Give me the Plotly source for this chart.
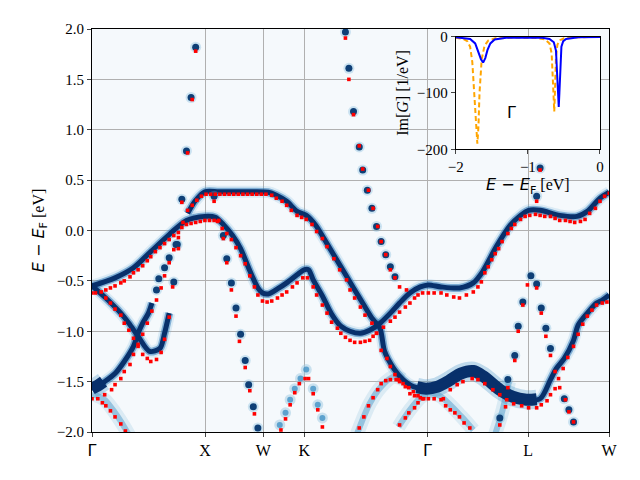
import plotly.graph_objects as go

# k-path Γ-X-W-K-Γ-L-W (path length, 2π/a)
sym_k = [0, 0.981, 1.487, 1.843, 2.911, 3.787, 4.488]
sym_lbl = ["Γ", "X", "W", "K", "Γ", "L", "W"]

# ---- DFT bands (red dots) ----
dft1_k = [0.00, 0.03, 0.08, 0.12, 0.16, 0.20, 0.25, 0.28, 0.33, 0.36, 0.40, 0.44, 0.48, 0.51, 0.55, 0.59, 0.63,
          0.67, 0.71, 0.75, 0.78, 0.82, 0.86, 0.90, 0.94, 0.98,
          1.02, 1.06, 1.09, 1.13, 1.17, 1.21, 1.25, 1.29, 1.33, 1.37, 1.41, 1.44, 1.48, 1.52, 1.56, 1.61, 1.65,
          1.69, 1.74, 1.78, 1.83, 1.87,
          1.92, 1.95, 2.00, 2.04, 2.08, 2.13, 2.16, 2.20, 2.24, 2.28, 2.33, 2.37, 2.41, 2.44, 2.47, 2.53, 2.59,
          2.63, 2.67, 2.72, 2.76, 2.80, 2.83, 2.87, 2.92,
          2.97, 3.03, 3.08, 3.14, 3.19, 3.25, 3.31, 3.35, 3.38, 3.41, 3.44, 3.47, 3.50, 3.53, 3.56, 3.61, 3.64,
          3.67, 3.72, 3.76, 3.80, 3.85, 3.89, 3.93, 3.98, 4.02, 4.06, 4.11, 4.15, 4.19, 4.24, 4.28, 4.32, 4.37,
          4.41, 4.45, 4.49]
dft1_e = [-0.62, -0.62, -0.61, -0.59, -0.57, -0.55, -0.52, -0.50, -0.46, -0.42, -0.39, -0.35, -0.30, -0.26, -0.21,
          -0.17, -0.13, -0.09, -0.05, -0.02, 0.03, 0.06, 0.07, 0.08, 0.09, 0.10,
          0.10, 0.10, 0.09, 0.02, -0.03, -0.09, -0.17, -0.25, -0.33, -0.45, -0.56, -0.64, -0.70, -0.71, -0.70,
          -0.67, -0.64, -0.61, -0.56, -0.52, -0.47, -0.47,
          -0.56, -0.64, -0.74, -0.82, -0.91, -0.97, -1.02, -1.06, -1.09, -1.11, -1.11, -1.10, -1.09, -1.05, -1.02,
          -0.96, -0.90, -0.86, -0.81, -0.76, -0.72, -0.67, -0.64, -0.62, -0.62,
          -0.62, -0.62, -0.64, -0.66, -0.67, -0.64, -0.61, -0.56, -0.51, -0.42, -0.36, -0.29, -0.23, -0.18, -0.11,
          -0.03, 0.02, 0.06, 0.11, 0.14, 0.15, 0.16, 0.15, 0.14, 0.14, 0.12, 0.10, 0.10, 0.09, 0.08, 0.09, 0.11,
          0.17, 0.22, 0.29, 0.34, 0.37]

dft2_k = [0.12, 0.16, 0.20, 0.25, 0.28, 0.32, 0.36, 0.40, 0.44, 0.48, 0.51, 0.56, 0.60, 0.63, 0.67, 0.70, 0.75,
          0.78, 0.83, 0.87, 0.90]
dft2_e = [-0.67, -0.72, -0.78, -0.84, -0.92, -0.99, -1.07, -1.15, -1.23, -1.27, -1.30, -1.28, -1.21, -1.08, -0.86,
          -0.56, -0.18, 0.28, 0.77, 1.30, 1.78]

dft3_k = [0.00, 0.05, 0.11, 0.17, 0.20, 0.25, 0.28, 0.33, 0.36, 0.40, 0.44, 0.48, 0.52, 0.56, 0.60, 0.63, 0.67,
          0.71, 0.75, 0.79, 0.83, 0.87, 0.91, 0.95, 0.99,
          1.03, 1.07, 1.11, 1.15, 1.19, 1.23, 1.27, 1.31, 1.35, 1.39, 1.43, 1.47, 1.51,
          1.56, 1.60, 1.65, 1.69, 1.73, 1.78, 1.82, 1.86, 1.91, 1.95, 2.00, 2.04, 2.10, 2.15, 2.21, 2.24, 2.28,
          2.33, 2.37, 2.43, 2.47, 2.51, 2.56, 2.59, 2.63, 2.66, 2.70, 2.75, 2.79, 2.83, 2.88, 2.92,
          2.97, 3.05, 3.11, 3.17, 3.22, 3.30, 3.35, 3.41, 3.48, 3.54, 3.60, 3.66, 3.73, 3.79, 3.86, 3.90, 3.95,
          3.98, 4.02, 4.05, 4.09, 4.13, 4.18, 4.22, 4.26, 4.30, 4.34, 4.38, 4.43, 4.47]
dft3_e = [-1.67, -1.67, -1.63, -1.58, -1.53, -1.47, -1.40, -1.33, -1.23, -1.13, -1.03, -0.92, -0.80, -0.69, -0.57,
          -0.45, -0.32, -0.19, -0.07, 0.08, 0.20, 0.25, 0.30, 0.34, 0.36,
          0.36, 0.36, 0.36, 0.36, 0.36, 0.36, 0.36, 0.36, 0.36, 0.36, 0.36, 0.36, 0.36,
          0.35, 0.32, 0.29, 0.25, 0.20, 0.15, 0.13, 0.11, 0.06, -0.01, -0.08, -0.16, -0.28, -0.39, -0.49, -0.59,
          -0.67, -0.76, -0.84, -0.92, -1.02, -1.19, -1.27, -1.35, -1.43, -1.48, -1.52, -1.56, -1.60, -1.64, -1.67,
          -1.67,
          -1.67, -1.67, -1.58, -1.53, -1.50, -1.47, -1.48, -1.52, -1.58, -1.63, -1.68, -1.72, -1.74, -1.76, -1.76,
          -1.73, -1.69, -1.63, -1.57, -1.47, -1.37, -1.26, -1.15, -1.03, -0.93, -0.85, -0.79, -0.74, -0.72, -0.71]

dft4_k = [0.09, 0.12, 0.16, 0.20, 0.25, 0.29]
dft4_e = [-1.71, -1.74, -1.79, -1.85, -1.92, -1.99]
dft5_k = [1.06, 1.10, 1.14, 1.17, 1.21, 1.25, 1.28, 1.33, 1.37, 1.41]
dft5_e = [0.29, 0.10, -0.08, -0.32, -0.59, -0.85, -1.10, -1.36, -1.59, -1.82]
dft6_k = [1.64, 1.68, 1.72, 1.76, 1.80, 1.85, 1.88, 1.92, 1.96, 2.00]
dft6_e = [-1.98, -1.87, -1.73, -1.61, -1.52, -1.47, -1.47, -1.62, -1.78, -1.95]
dft7_k = [2.20, 2.23, 2.27, 2.32, 2.35, 2.40, 2.44, 2.48, 2.51, 2.55, 2.59, 2.63, 2.67, 2.73]
dft7_e = [1.91, 1.50, 1.15, 0.84, 0.61, 0.40, 0.22, 0.04, -0.11, -0.24, -0.39, -0.47, -0.56, -0.59]
dft8_k = [2.32, 2.36, 2.40, 2.44, 2.48, 2.51, 2.55, 2.59, 2.64, 2.67, 2.72, 2.76, 2.80, 2.85]
dft8_e = [-1.96, -1.85, -1.74, -1.66, -1.58, -1.52, -1.49, -1.48, -1.48, -1.50, -1.55, -1.62, -1.64, -1.66]
dft9_k = [2.67, 2.72, 2.75, 2.80, 2.83, 2.87]
dft9_e = [-1.93, -1.86, -1.81, -1.76, -1.71, -1.67]
dft10_k = [3.03, 3.07, 3.11, 3.15, 3.19, 3.23, 3.28]
dft10_e = [-1.68, -1.74, -1.78, -1.81, -1.85, -1.91, -1.96]
dft11_k = [3.54, 3.59, 3.61, 3.67, 3.70, 3.74, 3.78]
dft11_e = [-1.93, -1.75, -1.56, -1.29, -1.00, -0.74, -0.54]
dft12_k = [3.86, 3.90, 3.94, 3.98, 4.02, 4.06, 4.11, 4.14, 4.18]
dft12_e = [-0.57, -0.82, -1.05, -1.24, -1.40, -1.56, -1.68, -1.80, -1.90]
dft13_k = [3.86, 3.89]
dft13_e = [0.29, 0.60]

# ---- spectral function maxima (blue) ----
spec1_k = [0.00, 0.20, 0.36, 0.51, 0.67, 0.82, 0.98,
           1.07, 1.14, 1.22, 1.29, 1.37, 1.44, 1.48, 1.53, 1.61, 1.69, 1.78, 1.84, 1.88,
           1.92, 2.00, 2.08, 2.16, 2.24, 2.33, 2.41, 2.50, 2.59, 2.67, 2.76, 2.85, 2.92,
           3.03, 3.19, 3.31, 3.39, 3.51, 3.63, 3.72, 3.79, 3.89, 4.06, 4.21, 4.30, 4.41, 4.49]
spec1_e = [-0.55, -0.47, -0.37, -0.21, -0.04, 0.10, 0.14,
           0.13, 0.06, -0.05, -0.18, -0.40, -0.57, -0.62, -0.63, -0.58, -0.52, -0.44, -0.39, -0.39,
           -0.49, -0.65, -0.83, -0.95, -1.00, -1.02, -0.99, -0.92, -0.82, -0.72, -0.62, -0.56, -0.54,
           -0.56, -0.57, -0.52, -0.41, -0.16, 0.05, 0.15, 0.20, 0.20, 0.15, 0.14, 0.19, 0.32, 0.38]
spec2_k = [0.00, 0.11, 0.25, 0.32, 0.40, 0.50, 0.59, 0.63, 0.67]
spec2_e = [-0.55, -0.66, -0.82, -0.92, -1.05, -1.20, -1.17, -1.02, -0.82]
spec3a_k = [0.00, 0.11, 0.20, 0.28, 0.36, 0.40, 0.44, 0.49, 0.52]
spec3a_e = [-1.58, -1.50, -1.42, -1.30, -1.15, -1.02, -0.92, -0.82, -0.72]
spec3b_k = [0.83, 0.90, 0.98, 1.10, 1.25, 1.40, 1.53,
            1.60, 1.69, 1.78, 1.86, 1.94, 2.04, 2.15, 2.27, 2.36, 2.43, 2.50,
            2.54, 2.62, 2.70, 2.79, 2.90, 3.05, 3.20, 3.31, 3.40, 3.54, 3.65, 3.77, 3.89,
            3.98, 4.03, 4.10, 4.18, 4.22, 4.30, 4.38, 4.43, 4.49]
spec3b_e = [0.17, 0.30, 0.385, 0.385, 0.385, 0.385, 0.38,
            0.35, 0.29, 0.19, 0.15, 0.055, -0.13, -0.34, -0.57, -0.74, -0.87, -0.97,
            -1.20, -1.37, -1.48, -1.55, -1.57, -1.53, -1.42, -1.395, -1.45, -1.58, -1.65, -1.68, -1.67,
            -1.48, -1.37, -1.27, -1.09, -0.94, -0.82, -0.72, -0.69, -0.64]
heavy1_k = [0.00, 0.05, 0.10]
heavy1_e = [-1.57, -1.54, -1.50]
heavy2_k = [2.82, 2.90, 3.00, 3.10, 3.20, 3.31, 3.40, 3.54, 3.65, 3.77, 3.86]
heavy2_e = [-1.555, -1.57, -1.55, -1.49, -1.42, -1.395, -1.45, -1.58, -1.65, -1.68, -1.675]

peak2_k = [0.71, 0.74, 0.78, 0.82, 0.86, 0.90]
peak2_e = [-0.51, -0.14, 0.31, 0.79, 1.32, 1.82]
peak3_k = [0.56, 0.58, 0.63, 0.67, 0.73]
peak3_e = [-0.59, -0.48, -0.37, -0.27, -0.14]
peak5_k = [1.06, 1.14, 1.17, 1.21, 1.25, 1.29, 1.33, 1.36, 1.40, 1.44]
peak5_e = [0.34, -0.05, -0.28, -0.52, -0.77, -1.03, -1.29, -1.53, -1.75, -1.96]
peak6_k = [1.63, 1.68, 1.72, 1.76, 1.81, 1.86, 1.92, 1.96, 2.00]
peak6_e = [-1.93, -1.81, -1.68, -1.57, -1.47, -1.38, -1.57, -1.73, -1.86]
peak7_k = [2.20, 2.23, 2.27, 2.32, 2.35, 2.39, 2.43, 2.47, 2.51, 2.55, 2.59, 2.63]
peak7_e = [1.97, 1.61, 1.18, 0.83, 0.60, 0.40, 0.22, 0.04, -0.11, -0.24, -0.36, -0.46]
peak11_k = [3.54, 3.61, 3.67, 3.70, 3.74, 3.81]
peak11_e = [-1.86, -1.48, -1.24, -0.95, -0.71, -0.45]
peak12_k = [3.86, 3.90, 3.94, 3.98, 4.10, 4.14, 4.18]
peak12_e = [-0.53, -0.77, -0.97, -1.17, -1.67, -1.78, -1.90]
peak13_k = [3.86, 3.89]
peak13_e = [0.34, 0.62]

broad4_k = [0.00, 0.11, 0.20, 0.28, 0.33]
broad4_e = [-1.62, -1.68, -1.81, -1.95, -2.05]
broad8_k = [2.30, 2.41, 2.51, 2.62, 2.70]
broad8_e = [-2.02, -1.72, -1.55, -1.45, -1.48]
broad9_k = [2.66, 2.76, 2.85, 2.92]
broad9_e = [-1.95, -1.78, -1.66, -1.60]
broad10_k = [2.92, 3.03, 3.21, 3.31]
broad10_e = [-1.60, -1.65, -1.85, -1.98]
broad11_k = [3.50, 3.56, 3.62]
broad11_e = [-2.02, -1.80, -1.50]

# ---- inset: Im G at Γ ----
im_blue_x = [-2.0, -1.9, -1.8, -1.73, -1.69, -1.65, -1.62, -1.59, -1.56, -1.52, -1.46, -1.3, -1.0, -0.8, -0.7,
             -0.64, -0.61, -0.595, -0.58, -0.572, -0.563, -0.55, -0.535, -0.51, -0.47, -0.3, 0.0]
im_blue_y = [-1, -2, -4, -12, -27, -40, -46, -38, -24, -12, -5, -2, -1.5, -2, -4,
             -10, -25, -60, -110, -125, -100, -45, -18, -8, -4, -1, -0.5]
im_orange_x = [-2.0, -1.9, -1.84, -1.80, -1.77, -1.74, -1.715, -1.70, -1.685, -1.67, -1.64, -1.60, -1.55, -1.45,
               -1.2, -0.9, -0.76, -0.70, -0.67, -0.655, -0.64, -0.634, -0.625, -0.61, -0.59, -0.55, -0.5, -0.3, 0.0]
im_orange_y = [-2, -4, -8, -18, -45, -110, -175, -190, -160, -100, -40, -16, -7, -3,
               -1.5, -2, -5, -12, -30, -70, -125, -133, -100, -35, -14, -6, -3, -1, -0.5]

SERIF = "Liberation Serif, Times New Roman, serif"
SANS = "DejaVu Sans"

fig = go.Figure()


def add_line(k, e, width, color):
    fig.add_trace(go.Scatter(x=k, y=e, mode="lines", hoverinfo="skip",
                             line=dict(color=color, width=width, shape="spline", smoothing=0.8)))


def add_blobs(k, e, size, color):
    fig.add_trace(go.Scatter(x=k, y=e, mode="markers", hoverinfo="skip",
                             marker=dict(color=color, size=size, line=dict(width=0))))


# broad, weak spectral weight
for k, e in [(broad4_k, broad4_e), (broad8_k, broad8_e), (broad9_k, broad9_e),
             (broad10_k, broad10_e), (broad11_k, broad11_e)]:
    add_line(k, e, 14, "rgba(158,202,225,0.3)")
    add_line(k, e, 6, "rgba(66,146,198,0.45)")

# sharp quasiparticle lines
spec_lines = [(spec1_k, spec1_e), (spec2_k, spec2_e), (spec3a_k, spec3a_e), (spec3b_k, spec3b_e)]
for k, e in spec_lines:
    add_line(k, e, 12, "rgba(107,174,214,0.18)")
for k, e in spec_lines:
    add_line(k, e, 8, "rgba(33,113,181,0.5)")
for k, e in [(heavy1_k, heavy1_e), (heavy2_k, heavy2_e)]:
    add_line(k, e, 19, "rgba(66,146,198,0.3)")
    add_line(k, e, 12, "#08306b")
for k, e in spec_lines:
    add_line(k, e, 5, "#08306b")

# discrete peaks on steep bands
add_blobs(peak6_k, peak6_e, 11, "rgba(158,202,225,0.5)")
add_blobs(peak6_k, peak6_e, 6, "rgba(66,146,198,0.8)")
dark_peaks = [(peak2_k, peak2_e), (peak3_k, peak3_e), (peak5_k, peak5_e), (peak7_k, peak7_e),
              (peak11_k, peak11_e), (peak12_k, peak12_e), (peak13_k, peak13_e)]
for k, e in dark_peaks:
    add_blobs(k, e, 11, "rgba(107,174,214,0.3)")
for k, e in dark_peaks:
    add_blobs(k, e, 7, "#0e3f76")

# DFT bands
dft_bands = [(dft1_k, dft1_e), (dft2_k, dft2_e), (dft3_k, dft3_e), (dft4_k, dft4_e), (dft5_k, dft5_e),
             (dft6_k, dft6_e), (dft7_k, dft7_e), (dft8_k, dft8_e), (dft9_k, dft9_e), (dft10_k, dft10_e),
             (dft11_k, dft11_e), (dft12_k, dft12_e), (dft13_k, dft13_e)]
for k, e in dft_bands:
    fig.add_trace(go.Scatter(x=k, y=e, mode="markers", hoverinfo="skip",
                             marker=dict(color="#ff0000", size=3.6, symbol="square", line=dict(width=0))))

# inset
fig.add_trace(go.Scatter(x=im_orange_x, y=im_orange_y, xaxis="x2", yaxis="y2", mode="lines",
                         line=dict(color="#ffa500", width=2, dash="5px,3px")))
fig.add_trace(go.Scatter(x=im_blue_x, y=im_blue_y, xaxis="x2", yaxis="y2", mode="lines",
                         line=dict(color="#0000ff", width=2)))

tick_txt = [f"<span style='font-family:{SANS}'>Γ</span>" if s == "Γ" else s for s in sym_lbl]
etitle = (f"<span style='font-family:{SANS}'><i>E</i> − <i>E</i><sub>F</sub></span> [eV]")
tfont = dict(family=SERIF, size=15, color="black")

# page body has an 8 px margin, so the figure is 8 px smaller and margins shifted
fig.update_layout(
    width=632, height=472,
    margin=dict(l=84, r=31, t=21, b=48),
    paper_bgcolor="white", plot_bgcolor="#f5f9fc",
    showlegend=False,
    font=dict(family=SERIF, size=15, color="black"),
    xaxis=dict(range=[0, 4.488], tickvals=sym_k, ticktext=tick_txt, showgrid=True, gridcolor="#b0b0b0",
               gridwidth=1, zeroline=False, showline=True, mirror=True, linecolor="black", linewidth=1,
               ticks="outside", ticklen=4, tickfont=dict(family=SERIF, size=16, color="black")),
    yaxis=dict(range=[-2, 2], dtick=0.5, tickformat=".1f", showgrid=True, gridcolor="#b0b0b0", gridwidth=1,
               zeroline=False, showline=True, mirror=True, linecolor="black", linewidth=1,
               ticks="outside", ticklen=4, tickfont=tfont,
               title=dict(text=etitle, font=dict(size=16), standoff=8)),
    xaxis2=dict(domain=[0.7035, 0.9826], anchor="y2", range=[-2, 0], tickvals=[-2, -1, 0],
                showgrid=False, zeroline=False, showline=True, mirror=True, linecolor="black",
                ticks="outside", ticklen=4, tickfont=tfont,
                title=dict(text=etitle, font=dict(size=16), standoff=2)),
    yaxis2=dict(domain=[0.7015, 0.981], anchor="x2", range=[-200, 0], tickvals=[-200, -100, 0],
                showgrid=False, zeroline=False, showline=True, mirror=True, linecolor="black",
                ticks="outside", ticklen=4, tickfont=tfont,
                title=dict(text="Im[<i>G</i>] [1/eV]", font=dict(size=16), standoff=4)),
    shapes=[dict(type="rect", xref="x2", yref="y2", x0=-2, x1=0, y0=-200, y1=0,
                 fillcolor="white", line=dict(width=0), layer="below")],
    annotations=[dict(x=-1.22, y=-135, xref="x2", yref="y2", text="Γ", showarrow=False,
                      font=dict(family=SANS, size=16))],
)

fig.write_html("out.html")
